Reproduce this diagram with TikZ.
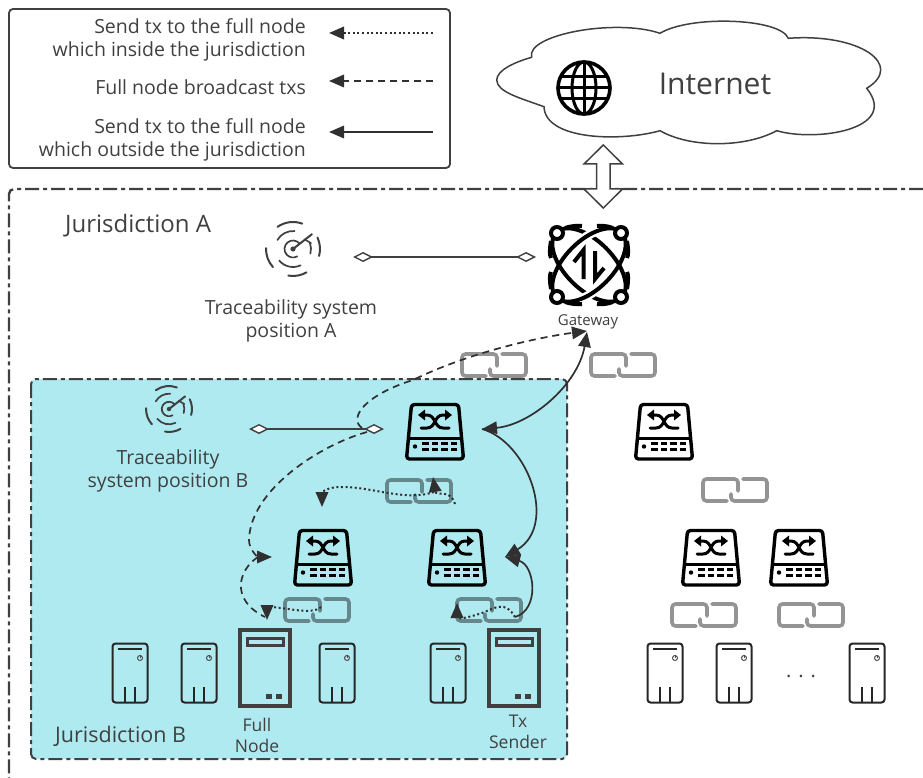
\documentclass[tikz,border=0pt]{standalone}
\usepackage{fontspec}
\setmainfont{Open Sans}
\usetikzlibrary{arrows.meta}
\definecolor{ink}{RGB}{64,64,64}
\definecolor{pale}{RGB}{176,234,241}
\tikzset{
  x=1pt,y=-1pt,
  txt/.style={text=ink,align=center,inner sep=0pt,font=\fontsize{19.5}{23}\selectfont},
  head/.style={-{Triangle[length=15pt,width=12.5pt]}},
  flow/.style={draw=ink!75!black,fill=none,line width=1.7pt},
  dashflow/.style={flow,dash pattern=on 7pt off 5pt},
  dotflow/.style={flow,dash pattern=on 2pt off 2.6pt,line width=2pt},
  assoc/.style={draw=ink,line width=1.8pt,{Diamond[open,fill=white,length=20pt,width=10pt,line width=1.4pt]}-{Diamond[open,fill=white,length=20pt,width=10pt,line width=1.4pt]}},
  zone/.style={draw=ink,line width=2.4pt,rounded corners=5pt,dash pattern=on 14pt off 4pt on 4pt off 4pt},
  switchpic/.pic={
    \draw[line width=3.4pt,rounded corners=3pt,line join=round] (-23.5,-27.5) -- (23.5,-27.5) -- (28.5,27) -- (-28.5,27) -- cycle;
    \draw[line width=3.2pt] (-28,6.5) -- (28,6.5);
    \fill (-20,14.5) circle (2.2pt);
    \foreach \xx in {-9.5,0,9.5,19}{
      \fill (\xx-3.2,10) rectangle +(6.4,3.2);
      \fill (\xx-3.2,16) rectangle +(6.4,3.2);
    }
    \draw[line width=3pt,line cap=round] (-14,-4) -- (-8,-4) .. controls (1,-4) and (-1,-17) .. (8,-17) -- (12,-17);
    \draw[line width=3pt,line cap=round] (14,-4) -- (8,-4) .. controls (-1,-4) and (1,-17) .. (-8,-17) -- (-12,-17);
    \fill (17,-17) -- (10,-22.5) -- (10,-11.5) -- cycle;
    \fill (-17,-17) -- (-10,-22.5) -- (-10,-11.5) -- cycle;
  },
  smallserver/.pic={
    \draw[line width=2pt,rounded corners=3pt,draw=black!85] (-17.5,-29.5) rectangle (17.5,29.5);
    \draw[line width=1.8pt,draw=black!85] (-12,-24) -- (12,-24);
    \draw[line width=1pt,draw=black!70] (10,-15) circle (2.5pt);
    \draw[line width=1pt,draw=black!70] (10,-18.5) -- (10,-15);
    \draw[line width=1.8pt,draw=black!85] (-5,14) -- (-5,29.5) (5,14) -- (5,29.5);
  },
  bigserver/.pic={
    \draw[line width=3.2pt,draw=ink] (-25,-38) rectangle (25,38);
    \draw[line width=3pt,draw=ink] (-18,-30) rectangle (18,-23);
    \fill[ink] (1,26) rectangle +(6,5);
    \fill[ink] (11,26) rectangle +(6,5);
  },
  chainlink/.pic={
    \draw[black,opacity=.42,line width=3.6pt,rounded corners=3.5pt,line cap=round]
      (-8,11) -- (-32,11) -- (-32,-11) -- (3,-11) -- (3,1);
    \draw[black,opacity=.42,line width=3.6pt,rounded corners=3.5pt,line cap=round]
      (-4,4) -- (-4,11) -- (32,11) -- (32,-11) -- (8,-11);
  },
  radar/.pic={
    \begin{scope}[draw=ink,line width=2pt,line cap=round]
      \draw (70:27pt) arc[start angle=70,end angle=125,radius=27pt];
      \draw (25:27pt) arc[start angle=25,end angle=-15,radius=27pt];
      \draw (-60:27pt) arc[start angle=-60,end angle=-100,radius=27pt];
      \draw (178:27pt) arc[start angle=178,end angle=222,radius=27pt];
      \draw[line width=1.7pt] (85:18pt) arc[start angle=85,end angle=150,radius=18pt];
      \draw[line width=1.7pt] (20:18pt) arc[start angle=20,end angle=-15,radius=18pt];
      \draw[line width=1.7pt] (-65:18pt) arc[start angle=-65,end angle=-140,radius=18pt];
      \draw[line width=1.7pt] (40:8.5pt) arc[start angle=40,end angle=300,radius=8.5pt];
      \draw[line width=2pt] (0,0) -- (38:24pt);
      \draw[line width=1.6pt] (40:15pt) -- (18:19pt);
      \fill[ink] (0,0) circle (2.6pt);
    \end{scope}
  },
  gatewaypic/.pic={
    \begin{scope}[line width=4pt]
      \draw[rotate=-45] (0,0) ellipse [x radius=46pt,y radius=24pt];
      \begin{scope}
        \clip (-13,-45) rectangle (13,45);
        \draw[white,line width=9pt,rotate=45] (0,0) ellipse [x radius=46pt,y radius=24pt];
      \end{scope}
      \draw[rotate=45] (0,0) ellipse [x radius=46pt,y radius=24pt];
      \foreach \xx/\yy in {-32/-32,32/-32,-32/32,32/32}
        \draw[fill=white] (\xx,\yy) circle (6pt);
      \draw (-24,-37) .. controls (-18,-39) and (-12,-39.5) .. (-7,-39);
      \draw (24,-37) .. controls (18,-39) and (14,-39.5) .. (8,-39);
      \draw (-24,37) .. controls (-18,39) and (-12,39.5) .. (-7,39);
      \draw (24,37) .. controls (18,39) and (14,39.5) .. (8,39);
      \draw (-38,-24) .. controls (-39.5,-15) and (-39.5,-10) .. (-38,-7);
      \draw (38,-24) .. controls (39.5,-15) and (39.5,-10) .. (38,-7);
      \draw (-38,24) .. controls (-39.5,15) and (-39.5,10) .. (-38,7);
      \draw (38,24) .. controls (39.5,15) and (39.5,10) .. (38,7);
      \draw (-15,-3) -- (-5.5,-15) -- (-5.5,14);
      \draw (15,3) -- (6,14) -- (6,-14);
    \end{scope}
  },
  globepic/.pic={
    \begin{scope}[line width=3pt]
      \draw[line width=3.6pt] (0,0) circle (26pt);
      \draw (0,0) ellipse [x radius=12pt,y radius=26pt];
      \draw (0,-26) -- (0,26);
      \draw (-26,0) -- (26,0);
      \draw (-23,-11) -- (23,-11);
      \draw (-23,11) -- (23,11);
    \end{scope}
  }
}
\begin{document}
\begin{tikzpicture}
\useasboundingbox (0,0) rectangle (923,778);
% jurisdiction zones
\draw[zone] (923,189) -- (9,189) -- (9,790);
\draw[zone,fill=pale,line width=2pt] (31,379) rectangle (567,759);
% legend
\draw[ink,line width=1.8pt,rounded corners=4pt] (9,9) rectangle (450,168);
\node[txt,align=right,anchor=east] (lg1) at (306,39.5) {Send tx to the full node\\which inside the jurisdiction};
\node[txt,align=right,anchor=east] (lg2) at (306,87) {Full node broadcast txs};
\node[txt,align=right,anchor=east] (lg3) at (306,139.5) {Send tx to the full node\\which outside the jurisdiction};
\coordinate (l1a) at (433,33); \coordinate (l1b) at (329,33);
\coordinate (l2a) at (433,81); \coordinate (l2b) at (329,81);
\coordinate (l3a) at (433,132); \coordinate (l3b) at (329,132);
\draw[dotflow,head] (l1a) -- (l1b);
\draw[dashflow,head] (l2a) -- (l2b);
\draw[flow,head] (l3a) -- (l3b);
% internet
\draw[ink,line width=1.5pt,fill=white] (531.7,57.3)
  .. controls (525,35) and (615,18) .. (660,33.3)
  .. controls (690,15) and (780,18) .. (788.3,38.3)
  .. controls (860,33) and (905,65) .. (866.7,88.3)
  .. controls (900,130) and (815,142) .. (776.7,130.7)
  .. controls (745,148) and (690,148) .. (660,130.7)
  .. controls (620,142) and (545,140) .. (544,106.7)
  .. controls (520,98) and (497,92) .. (496.7,80)
  .. controls (497,70) and (515,62) .. (531.7,57.3) -- cycle;
\pic at (584,88) {globepic};
\node[txt,font=\fontsize{30}{36}\selectfont] (inet) at (715,83.5) {Internet};
% double arrow
\draw[ink,line width=1.5pt,fill=white,line join=miter] (603.3,145) -- (622.5,164) -- (610,164) -- (610,189) -- (622.5,189) -- (603.3,208) -- (584,189) -- (596.6,189) -- (596.6,164) -- (584,164) -- cycle;
% labels
\node[txt,anchor=west,font=\fontsize{24}{28}\selectfont] (ja) at (65,226) {Jurisdiction A};
\node[txt,anchor=west,font=\fontsize{21.5}{26}\selectfont] (jb) at (55,736) {Jurisdiction B};
\pic at (293,249) {radar};
\pic[scale=.85] at (169,409) {radar};
\node[txt] (ta) at (291,320.5) {Traceability system\\position A};
\node[txt] (tb) at (168,470.5) {Traceability\\system position B};
\pic at (589,265) {gatewaypic};
\node[txt,font=\fontsize{15}{18}\selectfont] (gw) at (588,321.5) {Gateway};
% switches
\pic at (435,432) {switchpic};
\pic at (664,432) {switchpic};
\pic at (323,558) {switchpic};
\pic at (457,558) {switchpic};
\pic at (711,558) {switchpic};
\pic at (799,558) {switchpic};
% chain links
\pic at (494,365) {chainlink};
\pic at (623,365) {chainlink};
\pic at (419,491) {chainlink};
\pic at (735,490) {chainlink};
\pic at (317,610) {chainlink};
\pic at (489,610) {chainlink};
\pic at (704,615) {chainlink};
\pic at (811,615) {chainlink};
% servers
\foreach \sx in {130,199,337,448,665,734,867}{
  \pic at (\sx,673) {smallserver};
}
\pic at (265,668) {bigserver};
\pic at (514,668) {bigserver};
\node[txt,font=\fontsize{17.5}{21}\selectfont] (fn) at (257,735.5) {Full\\Node};
\node[txt,font=\fontsize{17.5}{21}\selectfont] (tx) at (518,731.5) {Tx\\Sender};
\node[txt,font=\fontsize{20}{24}\selectfont] (dots) at (801,676) {. . .};
% association lines
\coordinate (aL) at (353,257); \coordinate (aR) at (536,257);
\coordinate (bL) at (249,429); \coordinate (bR) at (384,429);
\draw[assoc] (aL) -- (aR);
\draw[assoc] (bL) -- (bR);
% flow end points
\coordinate (gwA) at (587,331);
\coordinate (gwB) at (587,332);
\coordinate (swTopR) at (482,429);
\coordinate (swLowR) at (505,557);
\coordinate (swLowL) at (272,557);
\coordinate (sendTop) at (515,617);
\coordinate (fromDia) at (362,428);
\coordinate (fromDiaB) at (367,432);
\coordinate (midL) at (258,557);
\coordinate (fullTop) at (265,617);
% dashed flows
\draw[dashflow,head] (fromDia) .. controls (348,418) and (365,395) .. (413,380) .. controls (470,352) and (540,337) .. (gwA);
\draw[dashflow,head] (fromDiaB) .. controls (320,445) and (250,490) .. (249,540) .. controls (249,550) and (258,557) .. (swLowL);
\draw[dashflow] (midL) .. controls (238,570) and (230,600) .. (fullTop);
% solid flows
\draw[flow,{Triangle[length=15pt,width=12.5pt]}-{Triangle[length=15pt,width=12.5pt]}] (swTopR) .. controls (530,425) and (578,385) .. (gwB);
\draw[flow,head] (swTopR) .. controls (528,442) and (558,525) .. (swLowR);
\draw[flow,head] (sendTop) .. controls (540,610) and (535,565) .. (swLowR);
% dotted flows
\coordinate (d1s) at (455,504); \coordinate (d1t) at (433,477);
\coordinate (d2s) at (434,492); \coordinate (d2t) at (322,507);
\coordinate (d3s) at (321,607); \coordinate (d3t) at (267,620);
\coordinate (d4t) at (457,603);
\draw[dotflow,head] (d1s) .. controls (450,488) and (436,497) .. (d1t);
\draw[dotflow,head] (d2s) .. controls (405,502) and (370,486) .. (340,487) .. controls (328,487) and (322,492) .. (d2t);
\draw[dotflow,head] (d3s) .. controls (312,616) and (280,606) .. (267,607) -- (d3t);
\draw[dotflow,head] (sendTop) .. controls (505,600) and (495,608) .. (482,613) .. controls (470,617) and (457,620) .. (d4t);
\end{tikzpicture}
\end{document}
